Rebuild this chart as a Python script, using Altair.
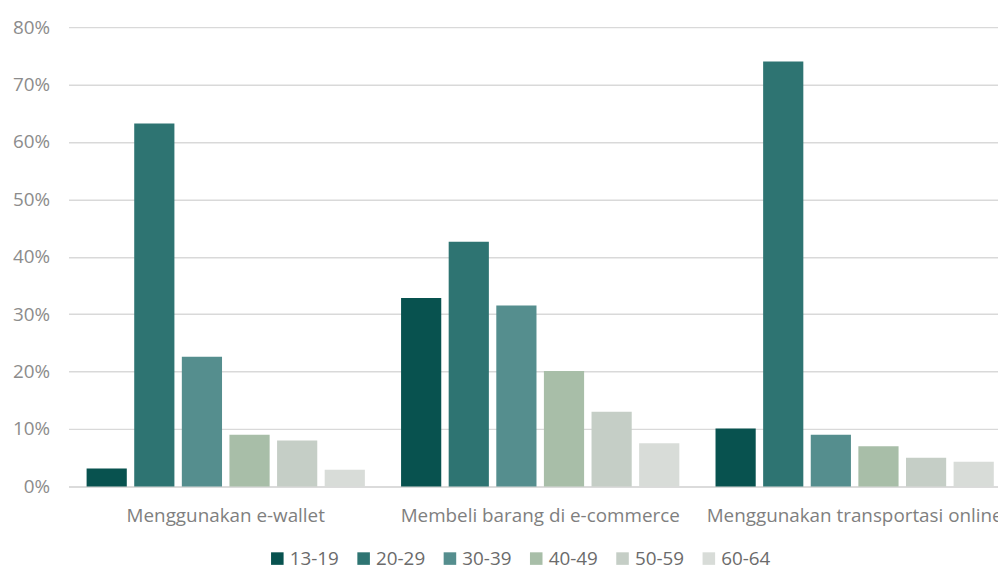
import altair as alt
import pandas as pd

groups = ["Menggunakan e-wallet", "Membeli barang di e-commerce", "Menggunakan transportasi online"]
ages = ["13-19", "20-29", "30-39", "40-49", "50-59", "60-64"]
ewallet = [3.1, 63.2, 22.6, 9.0, 8.0, 2.9]
ecommerce = [32.8, 42.6, 31.5, 20.1, 13.0, 7.5]
transport = [10.1, 74.0, 9.0, 7.0, 5.0, 4.3]
colors = ["#08524f", "#2e7472", "#558e8e", "#a8bea8", "#c5cec6", "#d8dcd8"]

rows = []
for g, vals in zip(groups, [ewallet, ecommerce, transport]):
    for a, v in zip(ages, vals):
        rows.append({"group": g, "age": a, "value": v / 100})
df = pd.DataFrame(rows)

FONT = "Open Sans"

chart = alt.Chart(df).mark_bar().encode(
    x=alt.X("group:N", sort=groups, title=None,
            scale=alt.Scale(paddingInner=0, paddingOuter=0),
            axis=alt.Axis(labelAngle=0, labelFontSize=19, labelColor="#7f7f7f", labelFont=FONT,
                          ticks=False, labelPadding=20, domainColor="#d9d9d9", domainWidth=1.5,
                          labelLimit=400)),
    xOffset=alt.XOffset("age:N", sort=ages,
                        scale=alt.Scale(paddingInner=0.156, paddingOuter=0.38)),
    y=alt.Y("value:Q", title=None,
            scale=alt.Scale(domain=[0, 0.8], nice=False),
            axis=alt.Axis(format=".0%", values=[0, 0.1, 0.2, 0.3, 0.4, 0.5, 0.6, 0.7, 0.8],
                          labelFontSize=19, labelColor="#8c8c8c", labelFont=FONT,
                          ticks=False, domain=False, labelPadding=19,
                          gridColor="#d9d9d9", gridWidth=1.5)),
    color=alt.Color("age:N", sort=ages, title=None,
                    scale=alt.Scale(domain=ages, range=colors),
                    legend=alt.Legend(orient="none", legendX=201, legendY=526,
                                      direction="horizontal", symbolType="square",
                                      symbolSize=160, symbolStrokeWidth=0,
                                      labelFontSize=19, labelFont=FONT, labelColor="#6b6b6b",
                                      labelOffset=3, columnPadding=15)),
).properties(
    width=951, height=463,
    autosize=alt.AutoSizeParams(type="none"),
    padding={"left": 61, "top": 17, "right": -14, "bottom": 85},
).configure_view(stroke=None)

chart.save("out.html", embed_options={"renderer": "svg", "actions": False})
